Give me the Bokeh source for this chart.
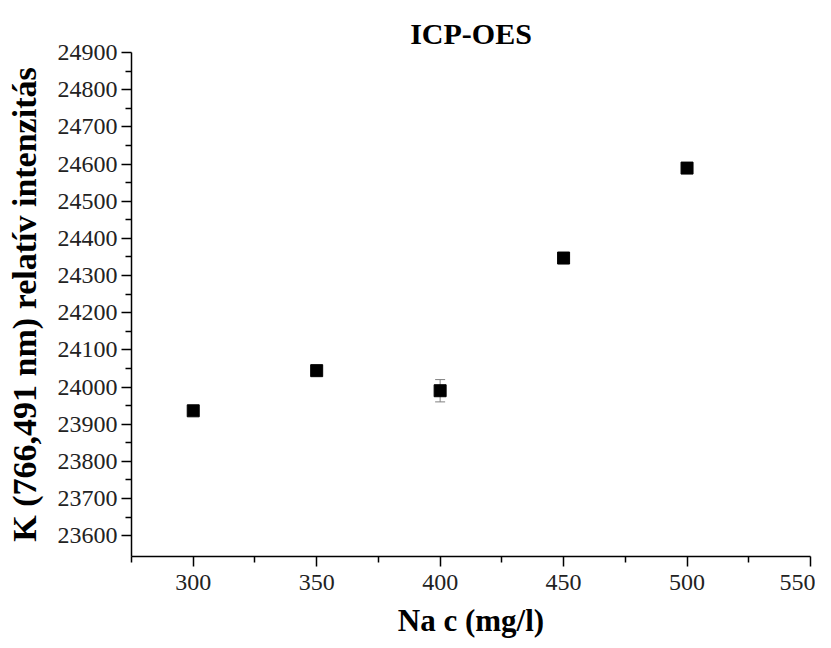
from bokeh.plotting import figure
from bokeh.models import ColumnDataSource, Whisker, TeeHead, Range1d, FixedTicker
from bokeh.embed import file_html
from bokeh.resources import INLINE

na_conc = [300, 350, 400, 450, 500]
k_intensity = [23936, 24044, 23990, 24347, 24589]
k_error = [9, 6, 30, 5, 12]

x_ticks = [300, 350, 400, 450, 500, 550]
y_ticks = list(range(23600, 24901, 100))

lower = [v - e for v, e in zip(k_intensity, k_error)]
upper = [v + e for v, e in zip(k_intensity, k_error)]
src = ColumnDataSource(dict(x=na_conc, y=k_intensity, lower=lower, upper=upper))

SERIF = "Liberation Serif"

p = figure(width=815, height=640, output_backend="svg", toolbar_location=None,
           x_range=Range1d(275, 550), y_range=Range1d(23544, 24900),
           title="ICP-OES",
           min_border_left=131, min_border_right=5, min_border_top=52, min_border_bottom=82)
p.outline_line_color = None
p.grid.visible = False
p.background_fill_color = "white"
p.border_fill_color = "white"

p.title.align = "center"
p.title.text_font = SERIF
p.title.text_font_size = "30px"
p.title.text_font_style = "bold"
p.title.text_color = "black"
p.title.standoff = 6

w = Whisker(source=src, base="x", lower="lower", upper="upper",
            line_color="#808080", line_width=1,
            upper_head=TeeHead(size=10, line_color="#808080", line_width=1),
            lower_head=TeeHead(size=10, line_color="#808080", line_width=1))
p.add_layout(w)

p.scatter("x", "y", source=src, marker="square", size=12, color="black")

for ax in (p.xaxis[0], p.yaxis[0]):
    ax.axis_line_color = "black"
    ax.axis_line_width = 1.5
    ax.major_tick_line_color = "black"
    ax.minor_tick_line_color = "black"
    ax.major_tick_line_width = 1.5
    ax.minor_tick_line_width = 1.5
    ax.major_tick_in = 0
    ax.minor_tick_in = 0
    ax.major_tick_out = 10
    ax.minor_tick_out = 6
    ax.major_label_text_font = SERIF
    ax.major_label_text_font_size = "24px"
    ax.major_label_text_color = "#222222"
    ax.axis_label_text_font = SERIF
    ax.axis_label_text_font_style = "bold"
    ax.axis_label_text_color = "black"

p.xaxis[0].axis_label_text_font_size = "31px"
p.yaxis[0].axis_label_text_font_size = "34px"
p.xaxis[0].ticker = FixedTicker(ticks=x_ticks, minor_ticks=[275, 325, 375, 425, 475, 525])
p.yaxis[0].ticker = FixedTicker(ticks=y_ticks, minor_ticks=[v + 50 for v in y_ticks[:-1]])
p.xaxis[0].axis_label = "Na c (mg/l)"
p.yaxis[0].axis_label = "K (766,491 nm) relatív intenzitás"
p.xaxis[0].major_label_standoff = 8
p.yaxis[0].major_label_standoff = 4
p.xaxis[0].axis_label_standoff = 10
p.yaxis[0].axis_label_standoff = 12

open("out.html", "w").write(file_html(p, INLINE))
